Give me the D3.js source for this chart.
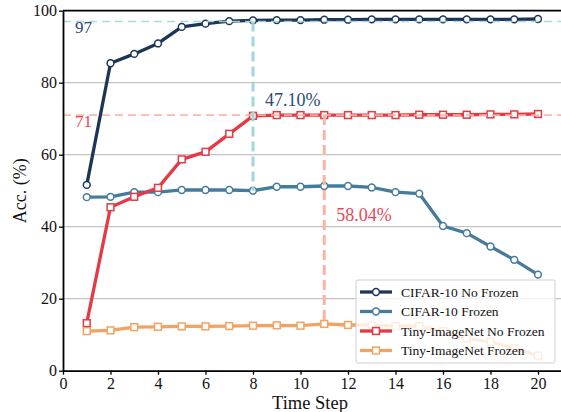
<!DOCTYPE html>
<html>
<head>
<meta charset="utf-8">
<script src="https://cdn.jsdelivr.net/npm/d3@7"></script>
<style>
  body { margin: 0; background: #fff; }
  svg, svg text { font-family: "Liberation Serif", "Times New Roman", serif; }
  svg { display: block; }
</style>
</head>
<body>
<div id="chart"></div>
<script>
// data
const steps = [1, 2, 3, 4, 5, 6, 7, 8, 9, 10, 11, 12, 13, 14, 15, 16, 17, 18, 19, 20]
const cifarNoFrozen = [51.6, 85.4, 88.0, 90.9, 95.5, 96.4, 97.1, 97.3, 97.4, 97.4, 97.5, 97.5, 97.6, 97.6, 97.6, 97.6, 97.6, 97.6, 97.6, 97.7]
const cifarFrozen = [48.2, 48.3, 49.6, 49.6, 50.2, 50.2, 50.2, 50.0, 51.1, 51.1, 51.3, 51.3, 50.9, 49.6, 49.2, 40.2, 38.2, 34.5, 30.8, 26.7]
const tinyNoFrozen = [13.2, 45.4, 48.3, 50.8, 58.7, 60.8, 65.8, 70.8, 71.0, 71.0, 71.0, 71.0, 71.0, 71.0, 71.1, 71.1, 71.1, 71.2, 71.2, 71.3]
const tinyFrozen = [11.0, 11.2, 12.1, 12.2, 12.3, 12.3, 12.4, 12.5, 12.6, 12.5, 13.0, 12.7, 12.7, 12.4, 12.4, 11.0, 9.0, 8.0, 6.2, 4.2]
const seriesNames = ['CIFAR-10 No Frozen', 'CIFAR-10 Frozen', 'Tiny-ImageNet No Frozen', 'Tiny-ImageNet Frozen']
const xTicks = [0, 2, 4, 6, 8, 10, 12, 14, 16, 18, 20]
const yTicks = [0, 20, 40, 60, 80, 100]
const refLevels = [97, 71]
const refLabels = ['97', '71']
const refSteps = [8, 11]
const gapLabels = ['47.10%', '58.04%']

const width = 561
const height = 412
const margin = { top: 10.7, right: 0, bottom: 41.3, left: 63 }
const gWidth = 498.75
const gHeight = height - margin.top - margin.bottom
const serif = '"Liberation Serif", "Times New Roman", serif'

const series = [
    { name: seriesNames[0], values: cifarNoFrozen, color: '#1d3557', shape: 'circle' },
    { name: seriesNames[1], values: cifarFrozen, color: '#457b9d', shape: 'circle' },
    { name: seriesNames[2], values: tinyNoFrozen, color: '#e63946', shape: 'square' },
    { name: seriesNames[3], values: tinyFrozen, color: '#f4a261', shape: 'square' },
]

const svg = d3.select('#chart').append('svg').attr('width', width).attr('height', height)

svg.append('defs').append('clipPath').attr('id', 'plotClip')
    .append('rect').attr('x', 0).attr('y', -6).attr('width', gWidth).attr('height', gHeight + 6)

const graph = svg.append('g').attr('transform', `translate(${margin.left}, ${margin.top})`)

const x = d3.scaleLinear().domain([0, 21]).range([0, gWidth])
const y = d3.scaleLinear().domain([0, 100]).range([gHeight, 0])

// grid
graph.append('g').selectAll('line').data(yTicks.slice(1, -1)).join('line')
    .attr('x1', 0).attr('x2', gWidth)
    .attr('y1', (d) => y(d)).attr('y2', (d) => y(d))
    .attr('stroke', '#c4c4c4').attr('stroke-width', 1.2)

const plot = graph.append('g').attr('clip-path', 'url(#plotClip)')

// series
const line = d3.line().x((d, i) => x(steps[i])).y((d) => y(d))

series.forEach((s) => {
    plot.append('path').datum(s.values)
        .attr('d', line)
        .attr('fill', 'none')
        .attr('stroke', s.color)
        .attr('stroke-width', 3.3)
        .attr('stroke-linejoin', 'round')

    const g = plot.append('g')
    if (s.shape === 'circle') {
        g.selectAll('circle').data(s.values).join('circle')
            .attr('cx', (d, i) => x(steps[i])).attr('cy', (d) => y(d))
            .attr('r', 3.4)
            .attr('fill', '#fff').attr('stroke', s.color).attr('stroke-width', 1.5)
    } else {
        g.selectAll('rect').data(s.values).join('rect')
            .attr('x', (d, i) => x(steps[i]) - 3.4).attr('y', (d) => y(d) - 3.4)
            .attr('width', 6.8).attr('height', 6.8)
            .attr('fill', '#fff').attr('stroke', s.color).attr('stroke-width', 1.5)
    }
})

// reference dashed lines
const refColors = ['#9fd8da', '#fcb3a3']
const refBottoms = [cifarFrozen[refSteps[0] - 1], tinyFrozen[refSteps[1] - 1]]
const textColors = ['#2b4a74', '#e8475a']

refLevels.forEach((lvl, k) => {
    plot.append('line')
        .attr('x1', 0).attr('x2', gWidth)
        .attr('y1', y(lvl)).attr('y2', y(lvl))
        .attr('stroke', refColors[k]).attr('stroke-width', 1.7)
        .attr('stroke-dasharray', '8,5').attr('opacity', 0.9)
    plot.append('line')
        .attr('x1', x(refSteps[k])).attr('x2', x(refSteps[k]))
        .attr('y1', y(lvl)).attr('y2', y(refBottoms[k]))
        .attr('stroke', refColors[k]).attr('stroke-width', 3)
        .attr('stroke-dasharray', '10,5')

    graph.append('text')
        .attr('x', x(0.5)).attr('y', y(lvl) + 11.5)
        .attr('fill', textColors[k])
        .style('font-family', serif)
        .style('font-size', '17px')
        .text(refLabels[k])
})

graph.append('text')
    .attr('x', x(8.5)).attr('y', y(73.5))
    .attr('fill', textColors[0]).style('font-size', '18px').style('font-family', serif)
    .text(gapLabels[0])
graph.append('text')
    .attr('x', x(11.5)).attr('y', y(41.5))
    .attr('fill', textColors[1]).style('font-size', '18px').style('font-family', serif)
    .text(gapLabels[1])

// axes
const gXAxis = graph.append('g').attr('transform', `translate(0, ${gHeight})`)
    .call(d3.axisBottom(x).tickValues(xTicks).tickSize(4).tickSizeOuter(0))
const gYAxis = graph.append('g')
    .call(d3.axisLeft(y).tickValues(yTicks).tickSize(4).tickSizeOuter(0))

;[gXAxis, gYAxis].forEach((g) => {
    g.attr('font-family', null)
    g.select('.domain').attr('stroke', '#000').attr('stroke-width', 1.8)
    g.selectAll('.tick line').attr('stroke', '#000').attr('stroke-width', 1.3)
    g.selectAll('text')
        .style('font-family', serif)
        .style('font-size', '16px')
        .attr('fill', '#111')
})
gXAxis.selectAll('text').attr('dy', '0.85em').attr('y', 5)
gYAxis.selectAll('text').attr('x', -6)

// top spine
graph.append('line')
    .attr('x1', 0).attr('x2', gWidth).attr('y1', 0).attr('y2', 0)
    .attr('stroke', '#000').attr('stroke-width', 1.8)

// axis titles
svg.append('text')
    .attr('x', margin.left + 247).attr('y', 409)
    .attr('text-anchor', 'middle')
    .style('font-size', '18.5px').style('font-family', serif).attr('fill', '#111')
    .text('Time Step')
svg.append('text')
    .attr('transform', `translate(26, ${margin.top + gHeight / 2}) rotate(-90)`)
    .attr('text-anchor', 'middle')
    .style('font-size', '18px').style('font-family', serif).attr('fill', '#111')
    .text('Acc. (%)')

// legend
const legend = svg.append('g').attr('transform', 'translate(356, 280)')
legend.append('rect')
    .attr('width', 199).attr('height', 83).attr('rx', 2)
    .attr('fill', 'rgba(255,255,255,0.8)')
    .attr('stroke', '#d0d0d0').attr('stroke-width', 1)

series.forEach((s, i) => {
    const row = legend.append('g').attr('transform', `translate(0, ${12 + i * 19.5})`)
    row.append('line')
        .attr('x1', 4).attr('x2', 36).attr('y1', 0).attr('y2', 0)
        .attr('stroke', s.color).attr('stroke-width', 3.3)
    if (s.shape === 'circle') {
        row.append('circle').attr('cx', 20).attr('cy', 0).attr('r', 3.4)
            .attr('fill', '#fff').attr('stroke', s.color).attr('stroke-width', 1.5)
    } else {
        row.append('rect').attr('x', 16.6).attr('y', -3.4).attr('width', 6.8).attr('height', 6.8)
            .attr('fill', '#fff').attr('stroke', s.color).attr('stroke-width', 1.5)
    }
    row.append('text')
        .attr('x', 45).attr('y', 4.8)
        .style('font-size', '13.5px').style('font-family', serif).attr('fill', '#111')
        .text(s.name)
})
</script>
</body>
</html>
